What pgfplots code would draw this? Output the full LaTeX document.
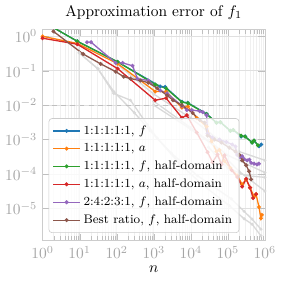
\documentclass[border=0pt]{standalone}
\usepackage{pgfplots}
\pgfplotsset{compat=1.18}
\definecolor{c0}{HTML}{1F77B4}
\definecolor{c1}{HTML}{FF7F0E}
\definecolor{c2}{HTML}{2CA02C}
\definecolor{c3}{HTML}{D62728}
\definecolor{c4}{HTML}{9467BD}
\definecolor{c5}{HTML}{8C564B}
\definecolor{gl}{HTML}{D9D9D9}
\begin{document}
\begin{tikzpicture}
\begin{axis}[name=ax,
  xmode=log, ymode=log, scale only axis,
  width=144pt, height=137pt,
  xmin=1, xmax=1e6, ymin=1.15e-6, ymax=1.6,
  title={Approximation error of $f_1$},
  title style={yshift=-3pt},
  xlabel={$n$},
  xlabel style={yshift=2pt},
  grid=both,
  major grid style={color=black!12},
  minor grid style={color=black!6},
  axis line style={black!20},
  tick style={black!25},
  tick label style={text=black!35},
  xtick={1,10,100,1000,10000,100000,1000000},
  ytick={1,0.1,0.01,0.001,0.0001,0.00001},
  every axis plot/.append style={line width=0.85pt, mark=*, mark size=0.8pt},
  legend cell align=left,
  legend style={at={(0.027,0.037)}, anchor=south west, draw=black!20, rounded corners=2pt,
    fill=white, fill opacity=0.8, text opacity=1, inner sep=2.5pt, font=\footnotesize, row sep=0.5pt},
  legend image code/.code={\draw[mark repeat=2,mark phase=2,#1] plot coordinates {(0cm,0cm) (0.3cm,0cm) (0.6cm,0cm)};},
]
% gray lines (other ratios)
\addplot[gl, mark size=0.5pt, forget plot] coordinates {(9.7,0.33) (31,0.114) (83,0.022) (236,0.0139) (671,0.0027) (1240,0.0011) (5000,2e-4) (20000,5e-5) (110000,1.2e-5) (275000,5e-6) (450000,3.5e-6) (780000,1.6e-6)};
\addplot[gl, mark size=0.5pt, forget plot] coordinates {(9.7,0.33) (31,0.114) (83,0.025) (300,0.006) (800,0.0018) (3000,4e-4) (15000,9e-5) (124000,1.9e-5) (275000,8.2e-6) (450000,4.9e-6) (780000,2.5e-6)};
\addplot[gl, mark size=0.5pt, forget plot] coordinates {(106,0.15) (1000,0.021) (10000,0.0042) (50000,0.0011) (200000,0.00045) (1000000,0.00025)};
\addplot[gl, mark size=0.5pt, forget plot] coordinates {(1000,0.013) (10000,0.0022) (100000,0.00035) (1000000,0.00011)};
\addplot[gl, mark size=0.5pt, forget plot] coordinates {(30000,0.0006) (100000,0.00015) (300000,9e-5) (1000000,8e-5)};
\addplot[gl, mark size=0.5pt, forget plot] coordinates {(1000,0.01) (10000,0.002) (39000,0.00072) (200000,0.00012) (1000000,3.2e-5)};
% threshold
\addplot[black!25, dashed, no marks, forget plot] coordinates {(1,0.01) (1000000,0.01)};
% series
\addplot[c0] coordinates {(1,2.7) (8.6,0.72) (106,0.18) (1490,0.035) (2027,0.034) (5754,0.0125) (8318,0.0117) (26700,0.0056) (49350,0.0031) (63100,0.0032) (116700,0.0018) (140300,0.0019) (229100,0.00122) (293000,0.00124) (450000,0.00082) (509300,0.00093) (691800,0.00064) (800000,0.00072)};
\addlegendentry{1:1:1:1:1, $f$}
\addplot[c1] coordinates {(1,1.0) (8.6,0.62) (106,0.16) (1096,0.025) (2154,0.025) (5754,0.0085) (8318,0.0092) (14450,0.0042) (26700,0.0024) (36300,0.0009) (49350,0.00045) (59300,0.0005) (80700,0.00024) (116700,0.00015) (179100,9e-5) (243700,5e-5) (311300,7e-5) (398100,4e-5) (509300,2.2e-5) (575400,2.6e-5) (691800,1.1e-5) (781600,5.2e-6) (831800,6.5e-6)};
\addlegendentry{1:1:1:1:1, $a$}
\addplot[c2] coordinates {(1,2.7) (8.6,0.72) (106,0.181) (1096,0.0398) (2154,0.0306) (5754,0.0122) (8318,0.0114) (26700,0.0055) (49350,0.0031) (63100,0.0032) (116700,0.0018) (140300,0.0019) (229100,0.0013) (293000,0.00122) (450000,0.00082) (509300,0.00094) (650000,0.00068)};
\addlegendentry{1:1:1:1:1, $f$, half-domain}
\addplot[c3] coordinates {(1,0.88) (8.6,0.59) (106,0.115) (1096,0.0139) (2154,0.016) (5754,0.0043) (7816,0.0051) (14450,0.0016) (28400,0.00043) (38600,0.00022) (52500,0.00037) (67100,0.00019) (80700,0.00035) (126000,0.00013) (179100,8.2e-5) (243700,4.3e-5) (311300,7.2e-5) (398100,4.0e-5) (478600,2.0e-5) (575400,2.6e-5)};
\addlegendentry{1:1:1:1:1, $a$, half-domain}
\addplot[c4] coordinates {(15.8,0.674) (20.3,0.674) (94,0.169) (145,0.169) (267,0.139) (363,0.059) (713,0.0518) (1490,0.0268) (2291,0.022) (5754,0.0095) (7816,0.0072) (10640,0.0072) (17380,0.0067) (20890,0.0063) (26700,0.0051) (28400,0.0015) (38600,0.00115) (59300,0.001) (91200,0.00085) (131800,0.00072) (160000,0.00063) (179100,0.00036) (210000,0.00031) (243700,0.00033) (275400,0.00027) (331100,0.00025) (380000,0.00026) (423600,0.00021) (509300,0.0002) (612300,0.00019) (691800,0.0002)};
\addlegendentry{2:4:2:3:1, $f$, half-domain}
\addplot[c5] coordinates {(1.96,1.39) (12.4,0.306) (37,0.158) (94,0.094) (154,0.067) (236,0.059) (436,0.052) (713,0.045) (1240,0.031) (2291,0.0193) (3311,0.0139) (5754,0.01) (11300,0.0059) (17380,0.0037) (23600,0.0031) (28400,0.0013) (43650,0.001) (67100,0.00082) (109600,0.00058) (160000,0.00045) (202700,0.00036) (243700,0.00025) (311300,0.00018) (374200,0.00012) (423600,7e-5)};
\addlegendentry{Best ratio, $f$, half-domain}
\end{axis}
\path (ax.south west) ++(-26pt,-28pt) (ax.north east) ++(10.8pt,16pt);
\end{tikzpicture}
\end{document}
